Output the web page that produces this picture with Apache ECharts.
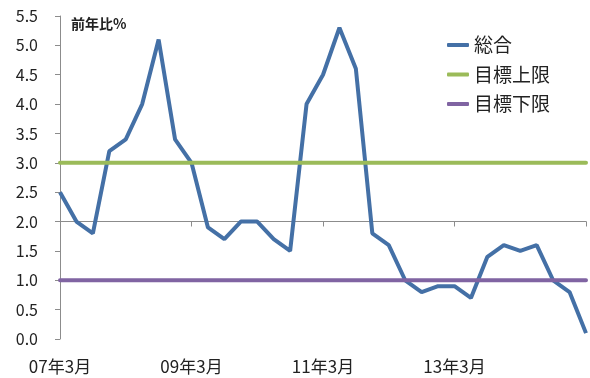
<!DOCTYPE html>
<html><head><meta charset="utf-8">
<script src="https://cdn.jsdelivr.net/npm/echarts@6/dist/echarts.min.js"></script>
<style>html,body{margin:0;padding:0;background:#fff}#c{width:590px;height:378px}</style>
</head><body><div id="c"></div>
<script>
const categories = [
  '07年3月','07年6月','07年9月','07年12月',
  '08年3月','08年6月','08年9月','08年12月',
  '09年3月','09年6月','09年9月','09年12月',
  '10年3月','10年6月','10年9月','10年12月',
  '11年3月','11年6月','11年9月','11年12月',
  '12年3月','12年6月','12年9月','12年12月',
  '13年3月','13年6月','13年9月','13年12月',
  '14年3月','14年6月','14年9月','14年12月',
  '15年3月'
];
const sogo = [2.5,2.0,1.8,3.2,3.4,4.0,5.1,3.4,3.0,1.9,1.7,2.0,2.0,1.7,1.5,4.0,4.5,5.3,4.6,1.8,1.6,1.0,0.8,0.9,0.9,0.7,1.4,1.6,1.5,1.6,1.0,0.8,0.1];
const upper = [3,3,3,3,3,3,3,3,3,3,3,3,3,3,3,3,3,3,3,3,3,3,3,3,3,3,3,3,3,3,3,3,3];
const lower = [1,1,1,1,1,1,1,1,1,1,1,1,1,1,1,1,1,1,1,1,1,1,1,1,1,1,1,1,1,1,1,1,1];
const shownLabels = ['07年3月','09年3月','11年3月','13年3月'];
const seriesNames = ['総合','目標上限','目標下限'];
const unitTitle = '前年比%';

const FONT = "'Noto Sans CJK JP', 'Noto Sans', sans-serif";
const chart = echarts.init(document.getElementById('c'), null, {renderer:'canvas'});
chart.setOption({
  animation: false,
  backgroundColor: '#fff',
  textStyle: {fontFamily: FONT},
  title: {text: unitTitle, left: 71, top: 17, padding: 0, textStyle: {fontSize: 14, fontWeight: 'bold', color: '#222', fontFamily: FONT}},
  legend: {
    orient: 'vertical', left: 447, top: 35, padding: 0, itemWidth: 22, itemHeight: 4, itemGap: 9.5,
    icon: 'roundRect',
    textStyle: {fontSize: 19, color: '#222', lineHeight: 20, fontFamily: FONT},
    data: seriesNames
  },
  grid: {left: 60, right: 4, top: 16, bottom: 39, containLabel: false},
  xAxis: [{
    type: 'category', data: categories, boundaryGap: false, position: 'bottom',
    axisLine: {show: false}, axisTick: {show: false},
    axisLabel: {margin: 19, fontSize: 17, color: '#222', fontFamily: FONT,
      interval: 0,
      formatter: v => shownLabels.includes(v) ? v : ''}
  },{
    type: 'category', data: categories, boundaryGap: false, position: 'bottom',
    offset: -117.5,
    axisLine: {show: true, lineStyle: {color: '#8c8c8c', width: 1}},
    axisTick: {show: true, interval: 7, length: 5, lineStyle: {color: '#8c8c8c'}},
    axisLabel: {show: false}
  }],
  yAxis: {
    type: 'value', min: 0, max: 5.5, interval: 0.5,
    axisLine: {show: true, lineStyle: {color: '#8c8c8c', width: 1}},
    axisTick: {show: true, length: 5, lineStyle: {color: '#8c8c8c'}},
    splitLine: {show: false},
    axisLabel: {margin: 22, fontSize: 16, color: '#222', fontFamily: FONT, formatter: v => v.toFixed(1)}
  },
  series: [
    {name: seriesNames[0], type: 'line', data: sogo, xAxisIndex: 0, symbol: 'none', lineStyle: {width: 4, color: '#4470a6'}, itemStyle: {color: '#4470a6'}},
    {name: seriesNames[1], type: 'line', data: upper, xAxisIndex: 0, symbol: 'none', lineStyle: {width: 4, color: '#9bbb59', cap: 'round'}, itemStyle: {color: '#9bbb59'}},
    {name: seriesNames[2], type: 'line', data: lower, xAxisIndex: 0, symbol: 'none', lineStyle: {width: 4, color: '#8064a2', cap: 'round'}, itemStyle: {color: '#8064a2'}}
  ]
});
</script></body></html>
